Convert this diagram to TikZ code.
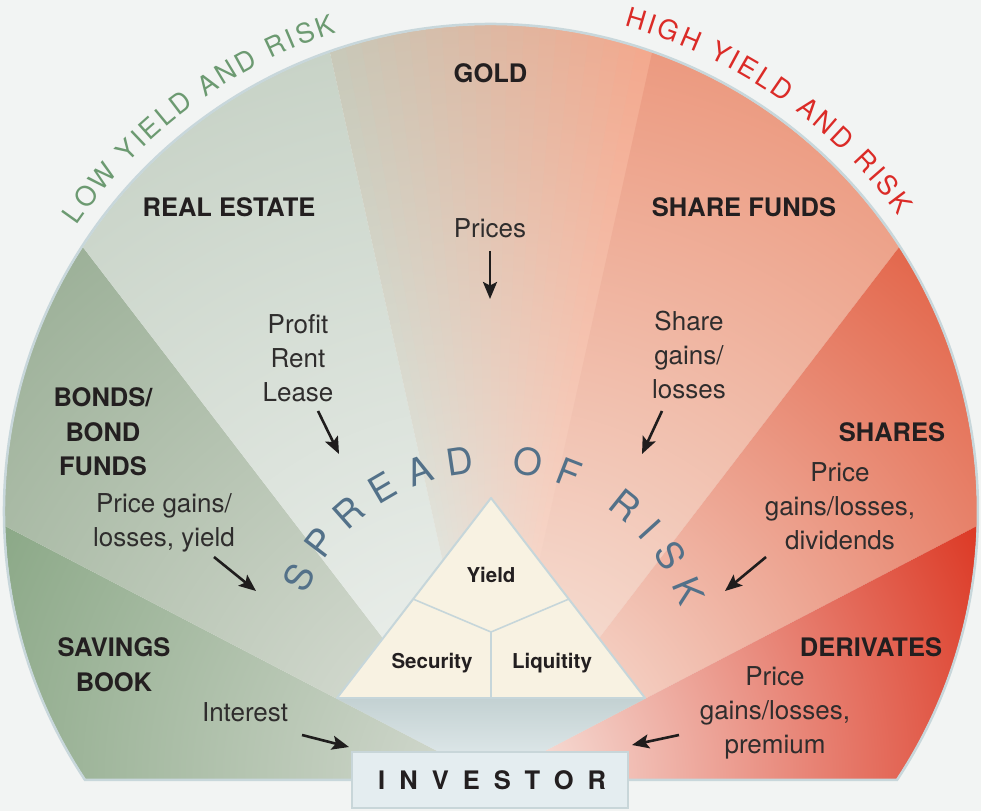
\documentclass[tikz,border=0pt]{standalone}
\usepackage{fontspec}
\setmainfont{TeX Gyre Heros}
\usetikzlibrary{arrows.meta,decorations.text}
\definecolor{bg}{HTML}{F2F4F3}
\definecolor{savI}{HTML}{D6DBD2}
\definecolor{savO}{HTML}{8CA988}
\definecolor{bonI}{HTML}{E0E3DC}
\definecolor{bonO}{HTML}{9DB199}
\definecolor{reI}{HTML}{F1F4F2}
\definecolor{reO}{HTML}{C8D3C7}
\definecolor{goldLI}{HTML}{EEEEE9}
\definecolor{goldLO}{HTML}{C8C8B8}
\definecolor{goldRI}{HTML}{F7E8E0}
\definecolor{goldRO}{HTML}{F3A88D}
\definecolor{sfI}{HTML}{F7EBE3}
\definecolor{sfO}{HTML}{EC9A80}
\definecolor{shI}{HTML}{F9EEE5}
\definecolor{shO}{HTML}{E3684D}
\definecolor{derI}{HTML}{F8ECE6}
\definecolor{derO}{HTML}{DC3A26}
\definecolor{underT}{HTML}{C3D1D2}
\definecolor{underB}{HTML}{E7EFF1}
\definecolor{tricream}{HTML}{F8F2E2}
\definecolor{triline}{HTML}{C6D6DA}
\definecolor{fanline}{HTML}{C8D7DB}
\definecolor{boxfill}{HTML}{E4EDF0}
\definecolor{boxline}{HTML}{C8D6D9}
\definecolor{txt}{HTML}{2F2D2D}
\definecolor{txtb}{HTML}{231F20}
\definecolor{arrc}{HTML}{1F1D1D}
\definecolor{spreadc}{HTML}{537189}
\definecolor{lowc}{HTML}{6C9A71}
\definecolor{highc}{HTML}{DB2B27}
% wedge between two angles (from the apex), radial shading reaching the outer colour at distance #5
\newcommand\mywedge[5]{%
  \begin{scope}
    \clip (0,0) -- (#1:1300) -- (#2:1300) -- cycle;
    \shade[inner color=#3, outer color=#4] (-#5,-#5) rectangle (#5,#5);
  \end{scope}}
\begin{document}
\begin{tikzpicture}[x=1pt,y=1pt,
  lab/.style={font=\fontsize{26}{34}\selectfont, text=txt, align=center, inner sep=0pt},
  head/.style={font=\fontsize{25.5}{34.5}\selectfont\bfseries, text=txtb, align=center, inner sep=0pt},
  trilab/.style={font=\fontsize{20.5}{24}\selectfont\bfseries, text=txtb, inner sep=0pt},
  arr/.style={-{Stealth[length=17pt,width=14pt,inset=3.5pt]}, line width=2.6pt, draw=arrc},
  invbox/.style={draw=boxline, fill=boxfill, line width=1.5pt, minimum width=276pt, minimum height=56pt, inner sep=0pt},
]
\useasboundingbox (0,0) rectangle (981,811);
\fill[bg] (0,0) rectangle (981,811);

% ---- fan of wedges
\begin{scope}
  \clip (0,32) rectangle (981,811);
  \clip (491,300) circle (486);
  \begin{scope}[shift={(491,32)}]
    \mywedge{152.5}{190}{savI}{savO}{545}
    \mywedge{127.5}{152.5}{bonI}{bonO}{669}
    \mywedge{102.5}{127.5}{reI}{reO}{745}
    \foreach \i in {0,...,19}{
      \pgfmathsetmacro\aa{102.5-1.25*\i}
      \pgfmathsetmacro\ab{\aa-1.25-0.4}
      \pgfmathtruncatemacro\p{round(\i*100/19)}
      \mywedge{\aa}{\ab}{goldRI!\p!goldLI}{goldRO!\p!goldLO}{754}
    }
    \mywedge{52.5}{77.5}{sfI}{sfO}{745}
    \mywedge{27.5}{52.5}{shI}{shO}{669}
    \mywedge{-10}{27.5}{derI}{derO}{545}
  \end{scope}
  % grey area under the triangle
  \shade[top color=underT, bottom color=underB] (335.4,113) -- (646.6,113) -- (491,32) -- cycle;
\end{scope}
% fan outline
\draw[fanline, line width=2.5pt] (491,300) ++(213.5:487) arc[start angle=213.5, end angle=-33.5, radius=487] -- cycle;

% ---- triangle
\fill[tricream, draw=triline, line width=2pt, line join=round] (337,113) -- (491,313) -- (645,113) -- cycle;
\draw[triline, line width=1.6pt] (413,212) -- (491,179) -- (569,212);
\draw[triline, line width=1.6pt] (491,179) -- (491,113);
\node[trilab] (yield) at (491,236) {Yield};
\node[trilab] (security) at (432,148) {Security};
\node[trilab] (liquitity) at (552,148) {Liquitity};

% ---- investor
\node[invbox] (investor) at (490,31) {};
\node[font=\fontsize{25.5}{30}\selectfont\bfseries\addfontfeature{LetterSpace=55}, text=txtb, anchor=west, inner sep=0pt] (invtext) at (378,31) {INVESTOR};

% ---- headings
\node[head] (gold) at (490.5,738) {GOLD};
\node[head] (realestate) at (229,604) {REAL ESTATE};
\node[head] (sharefunds) at (744,604) {SHARE FUNDS};
\node[head] (bonds) at (103,379) {BONDS/\\BOND\\FUNDS};
\node[head] (shares) at (892,379) {SHARES};
\node[head] (savings) at (114,146.5) {SAVINGS\\BOOK};
\node[head] (derivates) at (871,164) {DERIVATES};

% ---- descriptions
\node[lab] (prices) at (490,583) {Prices};
\node[lab] (profit) at (298,453) {Profit\\Rent\\Lease};
\node[lab] (sharegains) at (689,456) {Share\\gains/\\losses};
\node[lab] (bondgains) at (164,288) {Price gains/\\losses, yield};
\node[lab] (sharesgains) at (840,305) {Price\\gains/losses,\\dividends};
\node[lab] (interest) at (245,99) {Interest};
\node[lab] (dergains) at (775,98) {Price\\gains/losses,\\premium};

% ---- arrows
\coordinate (a1s) at (490,560); \coordinate (a1e) at (490,512);
\coordinate (a2s) at (318,400); \coordinate (a2e) at (339,357);
\coordinate (a3s) at (662,400); \coordinate (a3e) at (642,357);
\coordinate (a4s) at (214,254); \coordinate (a4e) at (256,220);
\coordinate (a5s) at (766,254); \coordinate (a5e) at (725,220);
\coordinate (a6s) at (302,76);  \coordinate (a6e) at (349,64);
\coordinate (a7s) at (679,76);  \coordinate (a7e) at (632,66);
\draw[arr] (a1s) -- (a1e);
\draw[arr] (a2s) -- (a2e);
\draw[arr] (a3s) -- (a3e);
\draw[arr] (a4s) -- (a4e);
\draw[arr] (a5s) -- (a5e);
\draw[arr] (a6s) -- (a6e);
\draw[arr] (a7s) -- (a7e);

% ---- curved texts
\path[decorate, decoration={text along path, text align=fit to path,
  text={|\fontsize{37}{37}\selectfont\color{spreadc}|SPREAD OF RISK}}]
  (491,138) ++(157:201) arc[start angle=157, end angle=19, radius=201];
\path[decorate, decoration={text along path, text align=fit to path,
  text={|\fontsize{27}{27}\selectfont\color{lowc}|LOW YIELD AND RISK}}]
  (491,300) ++(145.4:503) arc[start angle=145.4, end angle=107.9, radius=503];
\path[decorate, decoration={text along path, text align=fit to path,
  text={|\fontsize{27}{27}\selectfont\color{highc}|HIGH YIELD AND RISK}}]
  (491,300) ++(74.6:503) arc[start angle=74.6, end angle=36.0, radius=503];
\end{tikzpicture}
\end{document}
